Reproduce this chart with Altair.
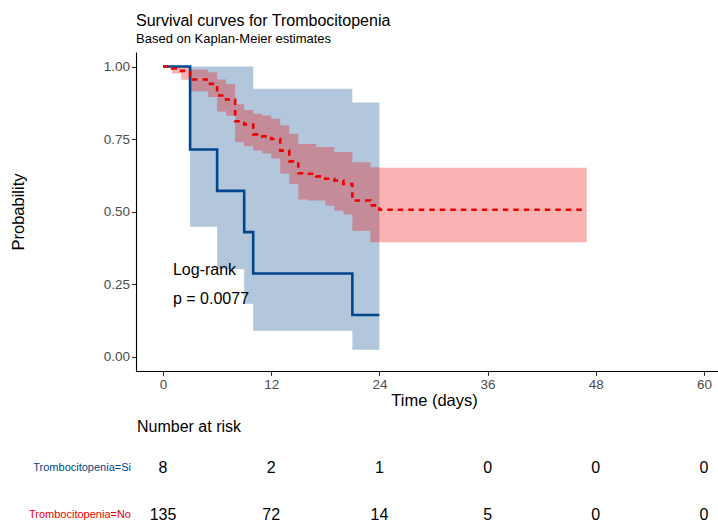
import altair as alt
import pandas as pd

# ---- data ----
groups = ["Trombocitopenia=Si", "Trombocitopenia=No"]
colors = ["#00468B", "#ED0000"]

si_time = [0, 3, 6, 9, 10, 21, 24]
si_surv = [1.000, 0.714, 0.571, 0.429, 0.286, 0.143, 0.143]
si_lower = [1.000, 0.447, 0.301, 0.182, 0.089, 0.023, 0.023]
si_upper = [1.000, 1.000, 1.000, 1.000, 0.923, 0.876, 0.876]

no_time = [0, 1, 2, 3, 5, 6, 7, 8, 9, 10, 11, 12, 13, 14, 15, 16, 17, 18, 19, 20, 21, 23, 24, 47]
no_surv = [1.000, 0.993, 0.985, 0.955, 0.940, 0.900, 0.886, 0.811, 0.800, 0.766, 0.759, 0.750,
           0.710, 0.673, 0.632, 0.630, 0.621, 0.613, 0.607, 0.595, 0.538, 0.521, 0.506, 0.506]
no_lower = [1.000, 0.976, 0.954, 0.915, 0.895, 0.845, 0.830, 0.739, 0.725, 0.710, 0.700, 0.683,
            0.631, 0.595, 0.541, 0.538, 0.538, 0.520, 0.503, 0.490, 0.434, 0.394, 0.394, 0.394]
no_upper = [1.000, 1.000, 1.000, 0.990, 0.980, 0.955, 0.940, 0.870, 0.850, 0.837, 0.831, 0.820,
            0.797, 0.768, 0.733, 0.733, 0.722, 0.722, 0.705, 0.705, 0.670, 0.653, 0.651, 0.651]

risk_times = [0, 12, 24, 36, 48, 60]
si_risk = [8, 2, 1, 0, 0, 0]
no_risk = [135, 72, 14, 5, 0, 0]

x_ticks = [0, 12, 24, 36, 48, 60]
y_ticks = [0.0, 0.25, 0.5, 0.75, 1.0]

annot_text = ["Log-rank", "p = 0.0077"]
annot_x = [1.1, 1.1]
annot_y = [0.30, 0.20]

# ---- tables ----
curves = pd.concat([
    pd.DataFrame({"time": si_time, "surv": si_surv, "lower": si_lower, "upper": si_upper, "group": groups[0]}),
    pd.DataFrame({"time": no_time, "surv": no_surv, "lower": no_lower, "upper": no_upper, "group": groups[1]}),
])
risk = pd.concat([
    pd.DataFrame({"time": risk_times, "n": si_risk, "group": groups[0]}),
    pd.DataFrame({"time": risk_times, "n": no_risk, "group": groups[1]}),
])
annot = pd.DataFrame({"x": annot_x, "y": annot_y, "label": annot_text})
row_labels = pd.DataFrame({"group": groups})

FONT = "Liberation Sans"
xscale = alt.Scale(domain=[-3, 61.56], nice=False, zero=False)
yscale = alt.Scale(domain=[-0.05, 1.05], nice=False, zero=False)
cscale = alt.Scale(domain=groups, range=colors)

X = alt.X("time:Q", scale=xscale,
          axis=alt.Axis(values=x_ticks, title="Time (days)", grid=False, format="d",
                        titleX=298, titleY=21))
Y = alt.Y("lower:Q", scale=yscale,
          axis=alt.Axis(values=y_ticks, title="Probability", grid=False, format=".2f",
                        titleX=-110, titleY=159.5))

bands = alt.Chart(curves).mark_area(interpolate="step-after", opacity=0.3).encode(
    x=X, y=Y, y2="upper:Q",
    color=alt.Color("group:N", scale=cscale, legend=None),
    order=alt.Order("grp_order:Q"),
).transform_calculate(grp_order="datum.group == 'Trombocitopenia=Si' ? 0 : 1")

lines = alt.Chart(curves).mark_line(interpolate="step-after", strokeWidth=2.6).encode(
    x=alt.X("time:Q", scale=xscale),
    y=alt.Y("surv:Q", scale=yscale),
    color=alt.Color("group:N", scale=cscale, legend=None),
    strokeDash=alt.StrokeDash("group:N", scale=alt.Scale(domain=groups, range=[[1, 0], [5.5, 5]]), legend=None),
)

ann = alt.Chart(annot).mark_text(align="left", baseline="middle", fontSize=16, font=FONT, color="black").encode(
    x=alt.X("x:Q", scale=xscale), y=alt.Y("y:Q", scale=yscale), text="label:N")

risk_title = alt.Chart(row_labels).transform_filter("datum.group == 'Trombocitopenia=Si'").mark_text(
    align="left", baseline="middle", fontSize=16, font=FONT, color="black", text="Number at risk"
).encode(x=alt.value(1), y=alt.value(375))

row_si = alt.Chart(risk).transform_filter("datum.group == 'Trombocitopenia=Si'").mark_text(
    align="center", baseline="middle", fontSize=16, font=FONT, color="black"
).encode(x=alt.X("time:Q", scale=xscale), y=alt.value(416), text="n:Q")
row_no = alt.Chart(risk).transform_filter("datum.group == 'Trombocitopenia=No'").mark_text(
    align="center", baseline="middle", fontSize=16, font=FONT, color="black"
).encode(x=alt.X("time:Q", scale=xscale), y=alt.value(463), text="n:Q")

lab_si = alt.Chart(row_labels).transform_filter("datum.group == 'Trombocitopenia=Si'").mark_text(
    align="right", baseline="middle", fontSize=11, font=FONT
).encode(x=alt.value(-5), y=alt.value(416), text="group:N",
         color=alt.Color("group:N", scale=cscale, legend=None))
lab_no = alt.Chart(row_labels).transform_filter("datum.group == 'Trombocitopenia=No'").mark_text(
    align="right", baseline="middle", fontSize=11, font=FONT
).encode(x=alt.value(-5), y=alt.value(463), text="group:N",
         color=alt.Color("group:N", scale=cscale, legend=None))

chart = alt.layer(bands, lines, ann, risk_title, row_si, row_no, lab_si, lab_no).properties(
    width=582, height=319,
    autosize=alt.AutoSizeParams(type="none"),
    padding={"left": 136, "top": 52, "right": 0, "bottom": 156},
    title=alt.TitleParams(
        text="Survival curves for Trombocitopenia",
        subtitle="Based on Kaplan-Meier estimates",
        anchor="start", frame="group", font=FONT, subtitleFont=FONT,
        fontSize=16, subtitleFontSize=13, fontWeight="normal",
        color="black", subtitleColor="black", offset=6, subtitlePadding=4,
    ),
).configure_view(stroke=None).configure_axis(
    domainColor="black", domainWidth=1.1, tickColor="#333333", tickWidth=1.1, tickSize=4.5,
    labelColor="#4D4D4D", labelFont=FONT, labelFontSize=13.5, labelPadding=2,
    titleColor="black", titleFont=FONT, titleFontSize=16.5, titleFontWeight="normal",
).configure_axisY(titleAngle=-90)

chart.save("out.html", embed_options={"renderer": "svg", "actions": False})
